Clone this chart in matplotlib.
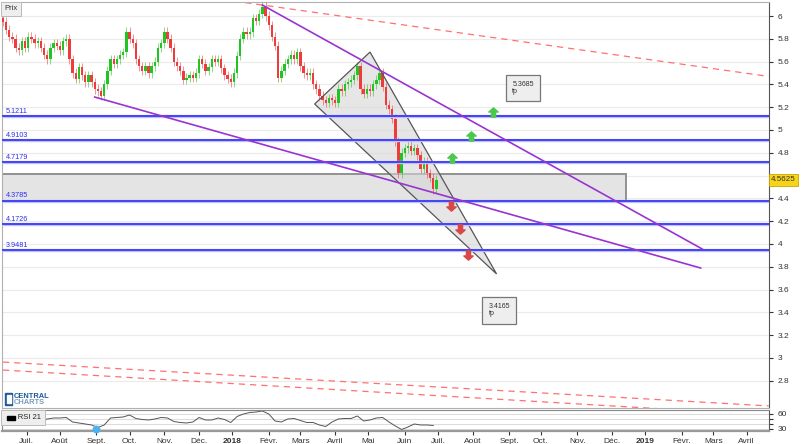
import numpy as np
import pandas as pd
import matplotlib
matplotlib.use("Agg")
import matplotlib.pyplot as plt
from matplotlib.patches import Rectangle, Polygon
from matplotlib.path import Path

plt.rcParams['font.family'] = ['Liberation Sans', 'DejaVu Sans']

# trading days, the chart is spaced by trading day
days = pd.bdate_range('2017-06-12', '2019-05-31')

# closes, one candle every 2 trading days from 2017-06-12
closes = [5.95, 5.88, 5.82, 5.80, 5.72, 5.70, 5.78, 5.72, 5.82, 5.80,
          5.76, 5.78, 5.72, 5.66, 5.62, 5.72, 5.76, 5.74, 5.70, 5.78,
          5.80, 5.62, 5.50, 5.45, 5.55, 5.48, 5.42, 5.48, 5.42, 5.36,
          5.34, 5.30, 5.40, 5.52, 5.62, 5.58, 5.62, 5.66, 5.68, 5.86,
          5.80, 5.76, 5.62, 5.56, 5.52, 5.56, 5.50, 5.56, 5.60, 5.72,
          5.76, 5.86, 5.80, 5.72, 5.60, 5.56, 5.52, 5.44, 5.46, 5.48,
          5.46, 5.50, 5.62, 5.58, 5.52, 5.55, 5.62, 5.60, 5.62, 5.54,
          5.48, 5.45, 5.42, 5.50, 5.65, 5.80, 5.86, 5.84, 5.86, 5.98,
          5.96, 6.02, 6.08, 6.00, 5.92, 5.82, 5.74, 5.46, 5.52, 5.58,
          5.62, 5.66, 5.62, 5.68, 5.56, 5.50, 5.48, 5.50, 5.40, 5.36,
          5.30, 5.26, 5.24, 5.28, 5.26, 5.24, 5.36, 5.34, 5.40, 5.42,
          5.44, 5.48, 5.56, 5.36, 5.32, 5.36, 5.34, 5.40, 5.44, 5.50,
          5.38, 5.22, 5.18, 5.10, 4.90, 4.62, 4.80, 4.84, 4.86, 4.82,
          4.84, 4.78, 4.66, 4.72, 4.62, 4.58, 4.48, 4.5625]
first_open = 5.98
candle_days = days[0:2 * len(closes):2]

# RSI 21, one point every 4 trading days
rsi = [50, 50, 50, 50, 50, 52, 48, 50, 52, 52,
       53, 44, 42, 40, 38, 33, 38, 52, 53, 54,
       58, 51, 49, 48, 50, 53, 52, 45, 43, 42,
       44, 53, 48, 48, 52, 49, 43, 55, 60, 63,
       64, 66, 60, 46, 44, 50, 51, 47, 43, 43,
       38, 35, 44, 50, 51, 51, 56, 46, 48, 52,
       53, 44, 36, 29, 34, 40, 38, 38, 37]
rsi_days = days[0:4 * len(rsi):4]
rsi_signal_day = '2017-09-01'
rsi_signal_value = 30

levels = [5.1211, 4.9103, 4.7179, 4.3785, 4.1726, 3.9481]
level_labels = ['5.1211', '4.9103', '4.7179', '4.3785', '4.1726', '3.9481']

zone_low, zone_high = 4.3785, 4.615
zone_end = '2018-12-14'

triangle_days = ['2018-03-14', '2018-05-02', '2018-08-22']
triangle_prices = [5.228, 5.684, 3.737]

trend_days = [('2017-08-31', '2019-02-19'), ('2018-01-26', '2019-02-20')]
trend_prices = [(5.289, 3.789), (6.096, 3.956)]

dash_days = [('2018-01-11', '2019-04-19'), ('2017-06-12', '2019-04-19'),
             ('2017-06-12', '2019-04-19')]
dash_prices = [(6.118, 5.47), (2.964, 2.579), (2.894, 2.498)]

up_days = ['2018-07-13', '2018-07-31', '2018-08-20']
up_levels = [4.7179, 4.9103, 5.1211]
down_days = ['2018-07-12', '2018-07-20', '2018-07-27']
down_levels = [4.3785, 4.1726, 3.9481]

tp_days = ['2018-09-14', '2018-08-24']
tp_prices = [5.3685, 3.4165]

last_price = 4.5625

month_labels = ['Juil.', 'Août', 'Sept.', 'Oct.', 'Nov.', 'Déc.', '2018', 'Févr.',
                'Mars', 'Avril', 'Mai', 'Juin', 'Juil.', 'Août', 'Sept.', 'Oct.',
                'Nov.', 'Déc.', '2019', 'Févr.', 'Mars', 'Avril']
month_starts = pd.date_range('2017-07-01', '2019-04-01', freq='MS')

price_ticks = [2.8, 3.0, 3.2, 3.4, 3.6, 3.8, 4.0, 4.2, 4.4, 4.6, 4.8, 5.0,
               5.2, 5.4, 5.6, 5.8, 6.0]


def pos(d):
    return days.searchsorted(pd.Timestamp(d))


green = '#22c422'
red = '#ee3b3b'
purple = '#9a34d0'
blue = '#2e2ef0'

fig = plt.figure(figsize=(8.06, 4.44), dpi=100)
ax = fig.add_axes([0.0025, 0.0811, 0.9516, 0.9144])
rax = fig.add_axes([0.0025, 0.0293, 0.9516, 0.0473])

xmin, xmax = -0.6, 484.2
ax.set_xlim(xmin, xmax)
ax.set_ylim(2.561, 6.123)

ax.grid(axis='y', color='#ebebeb', lw=0.8, zorder=0)
ax.set_axisbelow(True)

# zone + triangle behind candles
ax.add_patch(Rectangle((xmin, zone_low), pos(zone_end) - xmin, zone_high - zone_low,
                       facecolor='#e4e4e4', edgecolor='#8a8a8a', lw=1.3, zorder=1))
tri = [(pos(d), p) for d, p in zip(triangle_days, triangle_prices)]
ax.add_patch(Polygon(tri, closed=True, facecolor='#d6d6d6', alpha=0.6,
                     edgecolor='none', zorder=1.5))
ax.add_patch(Polygon(tri, closed=True, facecolor='none', edgecolor='#555555',
                     lw=0.9, zorder=4))

# candles
opens = [first_open] + closes[:-1]
xs = days.searchsorted(candle_days)
for x, o, c in zip(xs, opens, closes):
    col = green if c >= o else red
    lo, hi = min(o, c), max(o, c)
    ax.vlines(x, lo - 0.04, hi + 0.04, color=col, lw=0.7, alpha=0.55, zorder=3)
    ax.bar(x, max(hi - lo, 0.008), bottom=lo, width=1.5, color=col, lw=0, zorder=3)

# horizontal levels
for lv, lab in zip(levels, level_labels):
    ax.axhline(lv, color='#c0c0ff', lw=2.4, zorder=4.5)
    ax.axhline(lv, color=blue, lw=1.2, zorder=5)
    ax.text(2.0, lv + 0.012, lab, color=blue, fontsize=5.2, va='bottom', zorder=6)

# trend lines
for (d0, d1), (p0, p1) in zip(trend_days, trend_prices):
    ax.plot([pos(d0), pos(d1)], [p0, p1], color=purple, lw=1.2, zorder=6)

for (d0, d1), (p0, p1) in zip(dash_days, dash_prices):
    ax.plot([pos(d0), pos(d1)], [p0, p1], color='#ff7070', lw=0.9,
            ls=(0, (5, 4)), zorder=2)

# arrows
up_arrow = Path([(0, 1), (1, 0.1), (0.45, 0.1), (0.45, -1), (-0.45, -1),
                 (-0.45, 0.1), (-1, 0.1), (0, 1)], closed=True)
down_arrow = Path([(0, -1), (1, -0.1), (0.45, -0.1), (0.45, 1), (-0.45, 1),
                   (-0.45, -0.1), (-1, -0.1), (0, -1)], closed=True)
ax.scatter([pos(d) for d in up_days], [lv + 0.04 for lv in up_levels],
           marker=up_arrow, s=45, color='#4cc94c', zorder=7)
ax.scatter([pos(d) for d in down_days], [lv - 0.045 for lv in down_levels],
           marker=down_arrow, s=45, color='#d94848', zorder=7)

# tp boxes
for d, p in zip(tp_days, tp_prices):
    ax.text(pos(d) - 7.0, p, '%.4f\ntp' % p, fontsize=5, color='#333333',
            va='center', ha='left', linespacing=1.0, zorder=8,
            bbox=dict(boxstyle='square,pad=0.9', facecolor='#eeeeee',
                      edgecolor='#777777', lw=0.9))

# axes cosmetics
ax.yaxis.tick_right()
ax.set_yticks(price_ticks)
ax.set_yticklabels(['' if t == 4.6 else '%g' % t for t in price_ticks])
ax.tick_params(axis='y', labelsize=6, colors='#333333', length=3, pad=3)
ax.set_xticks([])
for s in ['left', 'top', 'bottom']:
    ax.spines[s].set_color('#b0b0b0')
ax.spines['right'].set_color('#555555')

ax.text(1.0 + 0.003, last_price, '%.4f' % last_price, transform=ax.get_yaxis_transform(),
        fontsize=5.8, color='#333333', va='center', ha='left', zorder=9, clip_on=False,
        bbox=dict(boxstyle='square,pad=0.3', facecolor='#f7d417', edgecolor='#c9a800', lw=0.6))

# RSI panel
rax.set_xlim(xmin, xmax)
rax.set_ylim(26, 68)
for lv in [60, 50, 40, 30]:
    rax.axhline(lv, color='#dddddd', lw=0.8, zorder=0)
rax.plot(days.searchsorted(rsi_days), rsi, color='#555555', lw=0.7, zorder=2)
rax.scatter([pos(rsi_signal_day)], [rsi_signal_value], s=22, color='#4ab3f0', zorder=3,
            clip_on=False)
rax.yaxis.tick_right()
rax.set_yticks([60, 50, 40, 30])
rax.set_yticklabels(['60', '', '', '30'])
rax.tick_params(axis='y', labelsize=6, colors='#333333', length=3, pad=3)
rax.set_xticks(days.searchsorted(month_starts))
rax.set_xticklabels(month_labels)
rax.tick_params(axis='x', labelsize=6, colors='#333333', length=3, pad=2)
for lab in rax.get_xticklabels():
    if lab.get_text() in ('2018', '2019'):
        lab.set_fontweight('bold')
for s in ['left', 'top']:
    rax.spines[s].set_color('#888888')
rax.spines['bottom'].set_color('#999999')
rax.spines['bottom'].set_linewidth(1.6)
rax.spines['right'].set_color('#555555')

# labels and logo
fig.text(4 / 806, 1 - 9 / 444, 'Prix', fontsize=5.5, color='#333333', va='center',
         bbox=dict(boxstyle='square,pad=0.45', facecolor='#eeeeee', edgecolor='#bbbbbb', lw=0.7))
fig.text(5 / 806, 1 - 417.5 / 444, '      RSI 21', fontsize=5.5, color='#222222', va='center',
         bbox=dict(boxstyle='square,pad=0.5', facecolor='#eeeeee', edgecolor='#bbbbbb', lw=0.7),
         zorder=5)
fig.patches.append(Rectangle((7 / 806, 1 - 419.5 / 444), 8 / 806, 4 / 444,
                             transform=fig.transFigure, color='black', zorder=6))
fig.patches.append(Rectangle((5 / 806, 1 - 405 / 444), 7 / 806, 12 / 444,
                             transform=fig.transFigure, color='#1d5a9a', zorder=6))
fig.patches.append(Rectangle((7.5 / 806, 1 - 403 / 444), 3 / 806, 8 / 444,
                             transform=fig.transFigure, color='white', zorder=7))
fig.text(14 / 806, 1 - 396 / 444, 'CENTRAL', fontsize=5.4, fontweight='bold',
         color='#1d5a9a', va='center')
fig.text(14 / 806, 1 - 402.5 / 444, 'CHARTS', fontsize=5.4, fontweight='bold',
         color='#7f9cc0', va='center')

fig.savefig('out.png', dpi=100)
